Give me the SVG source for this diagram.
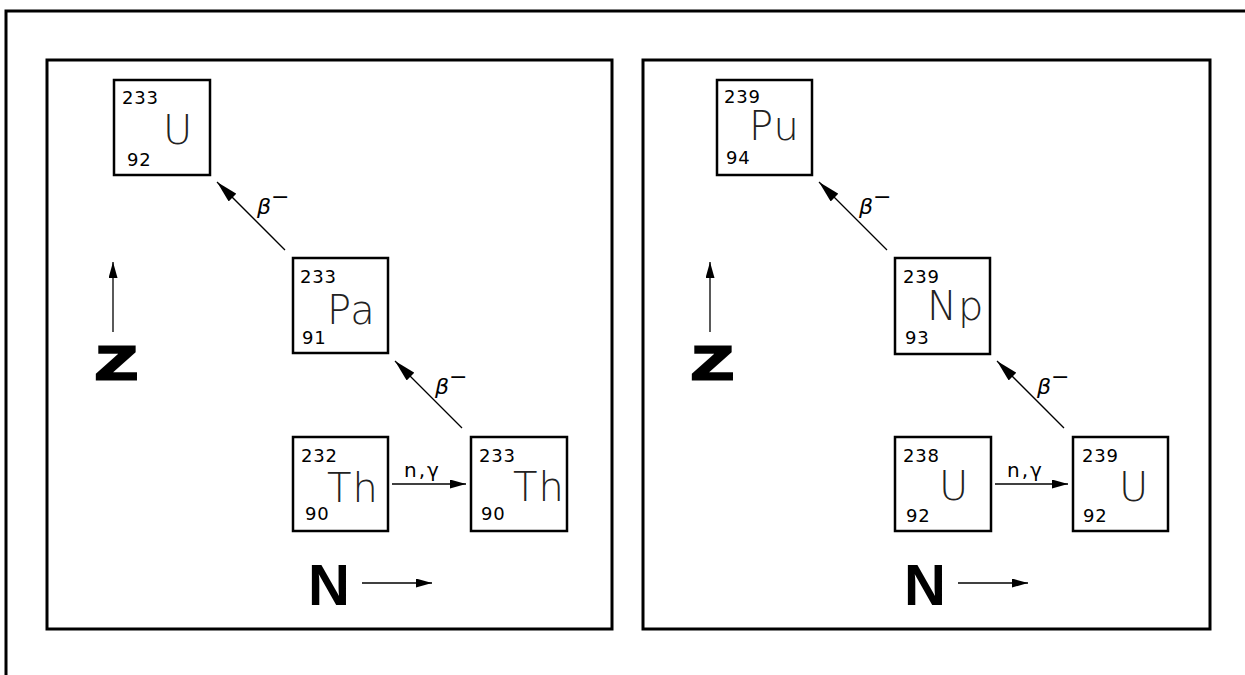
<svg xmlns="http://www.w3.org/2000/svg" width="1245" height="675" viewBox="0 0 1245 675">
<style>
.frame{fill:none;stroke:#000;stroke-width:3}
.box{fill:#fff;stroke:#000;stroke-width:2.5}
.num{font-family:"DejaVu Sans","Liberation Sans",sans-serif;font-size:18px;letter-spacing:0.8px;fill:#000}
.sym{font-family:"DejaVu Sans","Liberation Sans",sans-serif;font-size:40px;font-weight:200;letter-spacing:1px;fill:#222}
.lbl{font-family:"DejaVu Sans","Liberation Sans",sans-serif;font-size:20px;letter-spacing:2px;fill:#000}
.beta{font-family:"DejaVu Sans","Liberation Sans",sans-serif;font-size:22px;font-style:italic;fill:#000}
.axis{font-family:"Liberation Sans",Arial,sans-serif;font-weight:bold;fill:#000}
.zax{stroke:#000;stroke-width:3;stroke-linejoin:miter}
.ln{stroke:#000;stroke-width:1.3;fill:none}
</style>
<defs>
<marker id="big" markerUnits="userSpaceOnUse" markerWidth="22" markerHeight="11" refX="22" refY="5.5" orient="auto"><path d="M0,0 L22,5.5 L0,11 z" fill="#000"/></marker>
<marker id="small" markerUnits="userSpaceOnUse" markerWidth="16" markerHeight="9" refX="16" refY="4.5" orient="auto"><path d="M0,0 L16,4.5 L0,9 z" fill="#000"/></marker>
</defs>
<rect width="1245" height="675" fill="#fff"/>
<g id="outer-border"><path d="M6,675 V11 H1245" class="frame" stroke-width="2.5"/></g>
<g id="panel-left"><rect x="47" y="60" width="565" height="569" class="frame"/></g>
<g id="panel-right"><rect x="643" y="60" width="567" height="569" class="frame"/></g>

<g id="U233"><rect x="114" y="80" width="96" height="95" class="box"/><text x="122" y="104" class="num">233</text><text x="163" y="144" class="sym">U</text><text x="127" y="166" class="num">92</text></g>
<g id="Pa233"><rect x="293" y="258" width="95" height="95" class="box"/><text x="300" y="283" class="num">233</text><text x="327" y="324" class="sym">Pa</text><text x="302" y="344" class="num">91</text></g>
<g id="Th232"><rect x="293" y="437" width="95" height="94" class="box"/><text x="301" y="462" class="num">232</text><text x="327" y="502" class="sym">Th</text><text x="305" y="520" class="num">90</text></g>
<g id="Th233"><rect x="471" y="437" width="96" height="94" class="box"/><text x="479" y="462" class="num">233</text><text x="513" y="501" class="sym">Th</text><text x="481" y="520" class="num">90</text></g>

<g id="Pu239"><rect x="717" y="80" width="95" height="95" class="box"/><text x="724" y="103" class="num">239</text><text x="749" y="140" class="sym">Pu</text><text x="726" y="164" class="num">94</text></g>
<g id="Np239"><rect x="895" y="258" width="95" height="96" class="box"/><text x="903" y="283" class="num">239</text><text x="927" y="320" class="sym">Np</text><text x="905" y="344" class="num">93</text></g>
<g id="U238"><rect x="895" y="437" width="96" height="94" class="box"/><text x="903" y="462" class="num">238</text><text x="939" y="500" class="sym">U</text><text x="906" y="522" class="num">92</text></g>
<g id="U239"><rect x="1073" y="437" width="95" height="94" class="box"/><text x="1082" y="462" class="num">239</text><text x="1119" y="501" class="sym">U</text><text x="1083" y="522" class="num">92</text></g>

<g id="connectors">
<line x1="285" y1="250" x2="217" y2="182" class="ln" marker-end="url(#big)"/>
<line x1="462" y1="428" x2="395" y2="361" class="ln" marker-end="url(#big)"/>
<line x1="392" y1="484" x2="466" y2="484" class="ln" marker-end="url(#small)"/>
<line x1="887" y1="250" x2="819" y2="182" class="ln" marker-end="url(#big)"/>
<line x1="1064" y1="428" x2="997" y2="361" class="ln" marker-end="url(#big)"/>
<line x1="995" y1="484" x2="1068" y2="484" class="ln" marker-end="url(#small)"/>
<line x1="113" y1="332" x2="113" y2="262" class="ln" marker-end="url(#small)"/>
<line x1="362" y1="583" x2="432" y2="583" class="ln" marker-end="url(#small)"/>
<line x1="710" y1="332" x2="710" y2="262" class="ln" marker-end="url(#small)"/>
<line x1="958" y1="583" x2="1028" y2="583" class="ln" marker-end="url(#small)"/>
</g>

<g id="labels">
<text x="257" y="214" class="beta">β<tspan dy="-10" font-style="normal">−</tspan></text>
<text x="435" y="394" class="beta">β<tspan dy="-10" font-style="normal">−</tspan></text>
<text x="859" y="214" class="beta">β<tspan dy="-10" font-style="normal">−</tspan></text>
<text x="1037" y="394" class="beta">β<tspan dy="-10" font-style="normal">−</tspan></text>
<text x="404" y="477" class="lbl">n,γ</text>
<text x="1007" y="477" class="lbl">n,γ</text>
</g>

<g id="axis-labels">
<text transform="translate(96,379) scale(1.45,1)" x="0" y="0" class="axis zax" font-size="46">Z</text>
<text x="308" y="605" class="axis" font-size="58">N</text>
<text transform="translate(692,379) scale(1.45,1)" x="0" y="0" class="axis zax" font-size="46">Z</text>
<text x="904" y="605" class="axis" font-size="58">N</text>
</g>
</svg>
